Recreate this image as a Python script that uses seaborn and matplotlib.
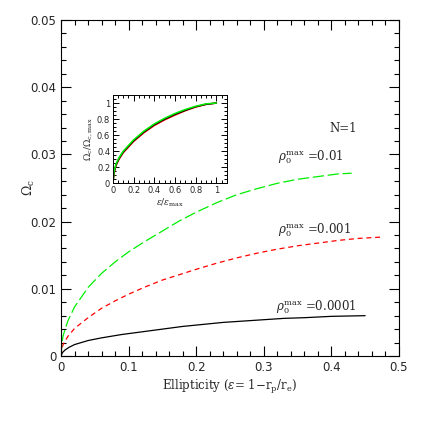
import numpy as np
import pandas as pd
import seaborn as sns
import matplotlib.pyplot as plt
from matplotlib.ticker import MultipleLocator

# --- data ---
# rho_0^max = 0.01 (green)
eps_g = [0, 0.001, 0.003, 0.01, 0.02, 0.04, 0.06, 0.08, 0.10, 0.125, 0.15, 0.175, 0.20, 0.23, 0.26, 0.29, 0.32, 0.35, 0.38, 0.41, 0.43]
om_g = [0, 0.0017, 0.0030, 0.0052, 0.0073, 0.0102, 0.0123, 0.0140, 0.0155, 0.0171, 0.0186, 0.0201, 0.0214, 0.0228, 0.0240, 0.0249, 0.0257, 0.0263, 0.0267, 0.0271, 0.0272]

# rho_0^max = 0.001 (red)
eps_r = [0, 0.001, 0.003, 0.01, 0.02, 0.04, 0.06, 0.08, 0.10, 0.125, 0.15, 0.175, 0.20, 0.23, 0.26, 0.29, 0.32, 0.35, 0.38, 0.41, 0.44, 0.475]
om_r = [0, 0.0010, 0.0017, 0.0029, 0.0041, 0.0057, 0.0071, 0.0082, 0.0092, 0.0103, 0.0113, 0.0121, 0.0129, 0.0138, 0.0146, 0.0153, 0.0159, 0.0164, 0.0168, 0.0172, 0.0175, 0.0177]

# rho_0^max = 0.0001 (black)
eps_k = [0, 0.002, 0.006, 0.012, 0.02, 0.04, 0.06, 0.09, 0.12, 0.15, 0.18, 0.21, 0.24, 0.27, 0.30, 0.33, 0.36, 0.40, 0.45]
om_k = [0, 0.0005, 0.0009, 0.0013, 0.0017, 0.0023, 0.0027, 0.0032, 0.0036, 0.0040, 0.0044, 0.0047, 0.0050, 0.0052, 0.0054, 0.0056, 0.0057, 0.0059, 0.0060]

# inset: normalised curves
norm_x = [0, 0.01, 0.03, 0.06, 0.1, 0.2, 0.3, 0.4, 0.5, 0.6, 0.7, 0.8, 0.9, 1.0]
norm_g = [0, 0.14, 0.24, 0.32, 0.40, 0.54, 0.65, 0.74, 0.81, 0.87, 0.92, 0.96, 0.99, 1.0]
norm_k = [0, 0.13, 0.23, 0.31, 0.39, 0.53, 0.64, 0.73, 0.80, 0.86, 0.91, 0.955, 0.985, 1.0]
norm_r = [0, 0.12, 0.22, 0.30, 0.38, 0.52, 0.63, 0.72, 0.79, 0.85, 0.905, 0.95, 0.983, 1.0]

labels = ["=0.01", "=0.001", "=0.0001"]
label_pos = [(0.321, 0.0296), (0.321, 0.0187), (0.318, 0.0073)]

sns.set_theme(style="ticks")
plt.rcParams["font.family"] = ["DejaVu Sans"]
plt.rcParams["mathtext.fontset"] = "dejavuserif"

fig = plt.figure(figsize=(4.36, 4.36), dpi=100)
ax = fig.add_axes([0.140, 0.1835, 0.775, 0.7706])

sns.lineplot(x=eps_k, y=om_k, ax=ax, color="black", lw=0.9)
sns.lineplot(x=eps_r, y=om_r, ax=ax, color="#ff0000", lw=0.9)
sns.lineplot(x=eps_g, y=om_g, ax=ax, color="#00ee00", lw=0.9)
ax.lines[1].set_dashes((4, 3))
ax.lines[2].set_dashes((9, 3))

ax.set_xlim(0, 0.5)
ax.set_ylim(0, 0.05)
ax.xaxis.set_major_locator(MultipleLocator(0.1))
ax.xaxis.set_minor_locator(MultipleLocator(0.02))
ax.yaxis.set_major_locator(MultipleLocator(0.01))
ax.yaxis.set_minor_locator(MultipleLocator(0.002))
ax.xaxis.set_major_formatter(plt.FuncFormatter(lambda v, p: f"{v:g}"))
ax.yaxis.set_major_formatter(plt.FuncFormatter(lambda v, p: f"{v:g}"))
ax.tick_params(which="both", direction="in", top=True, right=True, labelsize=8.5, width=0.8, color="black")
ax.tick_params(which="major", length=7)
ax.tick_params(which="minor", length=3.5)
for s in ax.spines.values():
    s.set_linewidth(0.8)
    s.set_color("black")

ax.set_xlabel(r"Ellipticity ($\varepsilon$= 1$-$r$_{\rm p}$/r$_{\rm e}$)", family="DejaVu Serif", fontsize=8.5, labelpad=3)
ax.set_ylabel(r"$\Omega_{\rm c}$", fontsize=9)
ax.yaxis.set_label_coords(-0.071, 0.5)

for lab, (tx, ty) in zip(labels, label_pos):
    ax.text(tx, ty, r"$\rho_0^{\rm max}$ " + lab, family="DejaVu Serif", fontsize=8.5, va="center")
ax.text(0.417, 0.0338, "N=1", family="DejaVu Serif", fontsize=8.5, ha="center", va="center")

# inset
ins = fig.add_axes([0.259, 0.580, 0.261, 0.202])
sns.lineplot(x=norm_x, y=norm_r, ax=ins, color="#ff0000", lw=1.1)
sns.lineplot(x=norm_x, y=norm_k, ax=ins, color="black", lw=1.1)
sns.lineplot(x=norm_x, y=norm_g, ax=ins, color="#00ee00", lw=1.1)
ins.set_xlim(0, 1.1)
ins.set_ylim(0, 1.1)
ins.xaxis.set_major_locator(MultipleLocator(0.2))
ins.xaxis.set_minor_locator(MultipleLocator(0.05))
ins.yaxis.set_major_locator(MultipleLocator(0.2))
ins.yaxis.set_minor_locator(MultipleLocator(0.05))
ins.xaxis.set_major_formatter(plt.FuncFormatter(lambda v, p: f"{v:g}"))
ins.yaxis.set_major_formatter(plt.FuncFormatter(lambda v, p: f"{v:g}"))
ins.tick_params(which="both", direction="in", top=True, right=True, labelsize=6, width=0.7, color="black", pad=2)
ins.tick_params(which="major", length=4)
ins.tick_params(which="minor", length=2)
for s in ins.spines.values():
    s.set_linewidth(0.7)
    s.set_color("black")
ins.set_xlabel(r"$\varepsilon/\varepsilon_{\rm max}$", fontsize=6.5, labelpad=1)
ins.set_ylabel(r"$\Omega_{\rm c}/\Omega_{\rm c,max}$", fontsize=6.5, labelpad=2)

fig.savefig("out.png", dpi=100)
